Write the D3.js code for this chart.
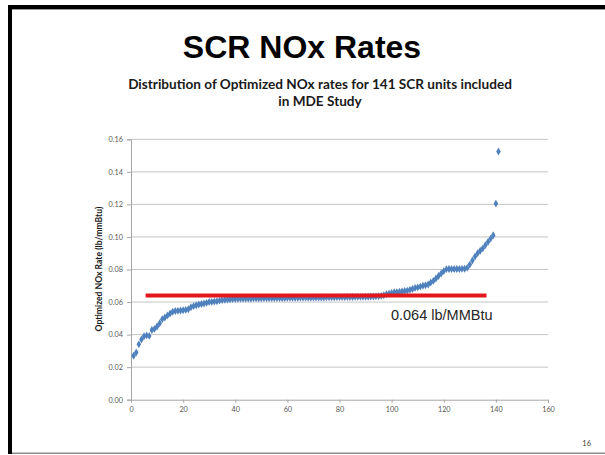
<!DOCTYPE html>
<html>
<head>
<meta charset="utf-8">
<script src="https://cdn.jsdelivr.net/npm/d3@7"></script>
<style>
  body { margin: 0; background: #fff; }
  svg { display: block; }
</style>
</head>
<body>
<svg id="screen"></svg>
<script>
// ---- data ----
// optimized NOx rate (lb/mmBtu) for each of the 141 SCR units, sorted
let unitRates = [
  0.0270, 0.0290, 0.0340, 0.0370, 0.0390, 0.0395, 0.0392, 0.0428, 0.0435, 0.0450,
  0.0470, 0.0495, 0.0505, 0.0518, 0.0530, 0.0540, 0.0545, 0.0546, 0.0548, 0.0550,
  0.0552, 0.0556, 0.0568, 0.0575, 0.0580, 0.0585, 0.0588, 0.0591, 0.0595, 0.0600,
  0.0601, 0.0603, 0.0605, 0.0609, 0.0612, 0.0614, 0.0615, 0.0617, 0.0618, 0.0620,
  0.0620, 0.0621, 0.0621, 0.0622, 0.0622, 0.0622, 0.0623, 0.0623, 0.0623, 0.0623,
  0.0624, 0.0624, 0.0624, 0.0624, 0.0625, 0.0625, 0.0625, 0.0625, 0.0625, 0.0626,
  0.0626, 0.0626, 0.0626, 0.0626, 0.0627, 0.0627, 0.0627, 0.0627, 0.0627, 0.0628,
  0.0628, 0.0628, 0.0628, 0.0628, 0.0629, 0.0629, 0.0629, 0.0629, 0.0630, 0.0630,
  0.0630, 0.0630, 0.0631, 0.0631, 0.0631, 0.0632, 0.0632, 0.0632, 0.0633, 0.0633,
  0.0633, 0.0634, 0.0634, 0.0635, 0.0636, 0.0638, 0.0642, 0.0648, 0.0652, 0.0656,
  0.0660, 0.0661, 0.0663, 0.0665, 0.0668, 0.0670, 0.0675, 0.0680, 0.0687, 0.0690,
  0.0695, 0.0700, 0.0703, 0.0708, 0.0720, 0.0730, 0.0745, 0.0760, 0.0775, 0.0790,
  0.0802, 0.0803, 0.0803, 0.0803, 0.0803, 0.0803, 0.0804, 0.0805, 0.0810, 0.0830,
  0.0855, 0.0880, 0.0900, 0.0915, 0.0930, 0.0950, 0.0970, 0.0990, 0.1010, 0.1205,
  0.1525
]
// reference rate and the unit range the red bar covers
let refRate = 0.064
let refRange = [5.6, 136.4]
let refLabel = "0.064 lb/MMBtu"

let xTicks = [0, 20, 40, 60, 80, 100, 120, 140, 160]
let yTicks = [0, 0.02, 0.04, 0.06, 0.08, 0.10, 0.12, 0.14, 0.16]

let titleText = "SCR NOx Rates"
let subtitleLines = ["Distribution of Optimized NOx rates for 141 SCR units included", "in MDE Study"]
let yTitle = "Optimized NOx Rate (lb/mmBtu)"
let pageNo = "16"

// ---- frame ----
let svg = {width: 605, height: 455}
let plot = {left: 131, right: 548, top: 139.3, bottom: 399.7}

let frame = d3.select('#screen')
  .attr('width', svg.width)
  .attr('height', svg.height)

// slide border: thick black top/left, thin grey bottom
frame.append('rect').attr('x', 8).attr('y', 5).attr('width', 597).attr('height', 4).attr('fill', '#000')
frame.append('rect').attr('x', 12).attr('y', 9).attr('width', 593).attr('height', 1).attr('fill', '#9a9a9a')
frame.append('rect').attr('x', 8).attr('y', 5).attr('width', 4).attr('height', 449).attr('fill', '#000')
frame.append('rect').attr('x', 12).attr('y', 452.5).attr('width', 593).attr('height', 1.5).attr('fill', '#8c8c8c')

// titles
frame.append('text')
  .attr('x', 302).attr('y', 58)
  .attr('text-anchor', 'middle')
  .attr('font-family', 'Liberation Sans, Arial, sans-serif')
  .attr('font-weight', 'bold')
  .attr('font-size', 32)
  .attr('fill', '#000')
  .text(titleText)

subtitleLines.forEach(function(line, i) {
  frame.append('text')
    .attr('x', 320).attr('y', 89 + i * 17)
    .attr('text-anchor', 'middle')
    .attr('font-family', 'Lato, sans-serif')
    .attr('font-weight', 'bold')
    .attr('font-size', 13.6)
    .attr('fill', '#1a1a1a')
    .text(line)
})

// ---- scales ----
let x = d3.scaleLinear().domain([0, 160]).range([plot.left, plot.right])
let y = d3.scaleLinear().domain([0, 0.16]).range([plot.bottom, plot.top])

let chart = frame.append('g').attr('id', 'chart')

// gridlines
chart.selectAll('.grid')
  .data(yTicks.filter(d => d > 0))
  .enter()
  .append('line')
  .attr('class', 'grid')
  .attr('x1', plot.left).attr('x2', plot.right)
  .attr('y1', d => y(d)).attr('y2', d => y(d))
  .attr('stroke', '#bdbdbd')
  .attr('stroke-width', 0.9)

// axes
let yAxis = d3.axisLeft(y).tickValues(yTicks).tickFormat(d3.format('.2f')).tickSize(4).tickPadding(4)
let xAxis = d3.axisBottom(x).tickValues(xTicks).tickFormat(d3.format('d')).tickSize(3).tickPadding(4)

let gy = chart.append('g').attr('transform', 'translate(' + plot.left + ',0)').call(yAxis)
let gx = chart.append('g').attr('transform', 'translate(0,' + plot.bottom + ')').call(xAxis)

;[gx, gy].forEach(function(g) {
  g.select('.domain').attr('stroke', '#a6a6a6').attr('stroke-width', 1)
  g.selectAll('.tick line').attr('stroke', '#a6a6a6')
  g.selectAll('.tick text')
    .attr('font-family', 'Lato, sans-serif')
    .attr('font-size', 7.3)
    .attr('fill', '#595959')
})

// y axis title
chart.append('text')
  .attr('transform', 'translate(102,' + 269 + ') rotate(-90)')
  .attr('text-anchor', 'middle')
  .attr('font-family', 'Lato, sans-serif')
  .attr('font-weight', 'bold')
  .attr('font-size', 8.6)
  .attr('fill', '#1a1a1a')
  .text(yTitle)

// ---- points (blue diamonds) ----
let diamond = d3.symbol().type(d3.symbolDiamond).size(18)
chart.selectAll('.unit')
  .data(unitRates)
  .enter()
  .append('path')
  .attr('class', 'unit')
  .attr('d', diamond)
  .attr('transform', (d, i) => 'translate(' + x(i + 1) + ',' + y(d) + ')')
  .attr('fill', '#4f81bd')

// ---- red reference bar ----
chart.append('line')
  .attr('x1', x(refRange[0])).attr('x2', x(refRange[1]))
  .attr('y1', y(refRate)).attr('y2', y(refRate))
  .attr('stroke', '#e3161c')
  .attr('stroke-width', 4)

chart.append('text')
  .attr('x', x(refRange[1]) + 6).attr('y', y(refRate) + 24)
  .attr('text-anchor', 'end')
  .attr('font-family', 'Liberation Sans, Arial, sans-serif')
  .attr('font-size', 14.5)
  .attr('fill', '#262626')
  .text(refLabel)

// page number
frame.append('text')
  .attr('x', 591).attr('y', 446)
  .attr('text-anchor', 'end')
  .attr('font-family', 'Lato, sans-serif')
  .attr('font-size', 7.5)
  .attr('fill', '#404040')
  .text(pageNo)
</script>
</body>
</html>
